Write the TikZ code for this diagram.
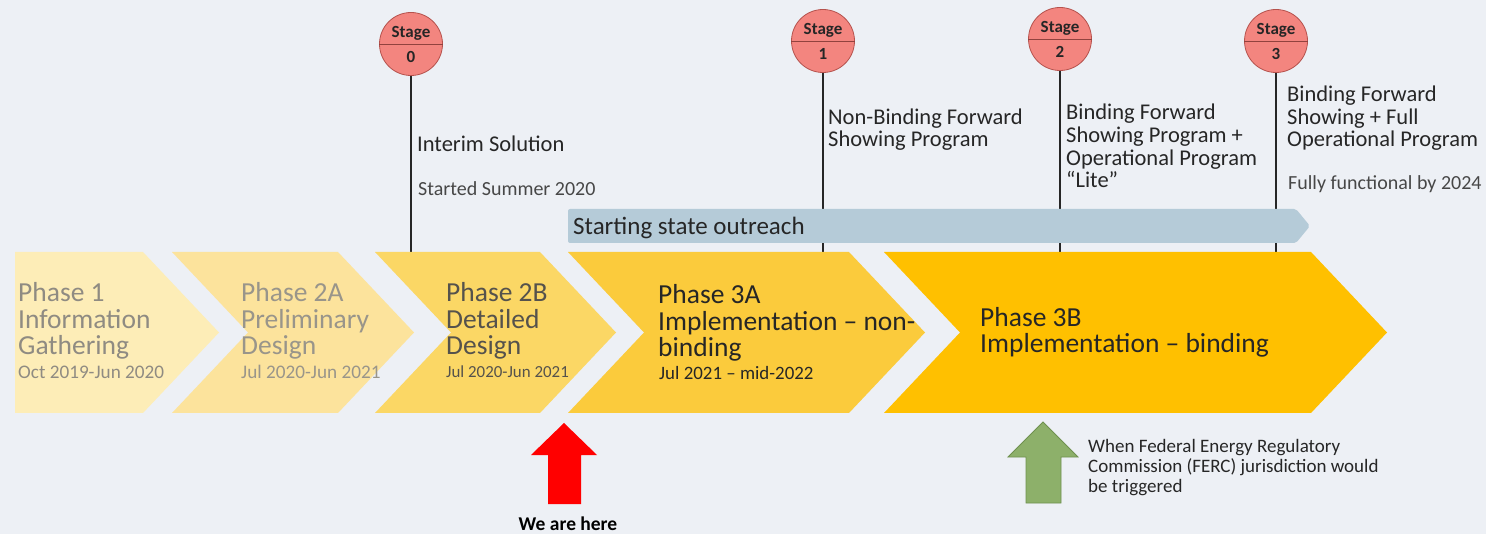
\documentclass[tikz,border=0pt]{standalone}
\usepackage{fontspec}
\setmainfont{Carlito}
\begin{document}
\definecolor{bgc}{HTML}{EDF0F5}
\definecolor{ph1}{HTML}{FDEDB7}
\definecolor{ph2a}{HTML}{FCE39C}
\definecolor{ph2b}{HTML}{FBD765}
\definecolor{ph3a}{HTML}{FBCB3C}
\definecolor{ph3b}{HTML}{FFC000}
\definecolor{txt1}{HTML}{8F8B82}
\definecolor{txt2}{HTML}{99958A}
\definecolor{txt2b}{HTML}{55524C}
\definecolor{darktxt}{HTML}{262626}
\definecolor{stagefill}{HTML}{F3857F}
\definecolor{stageedge}{HTML}{B5524D}
\definecolor{outreach}{HTML}{B5CBD8}
\definecolor{greenarrow}{HTML}{8DB06A}
\definecolor{greenedge}{HTML}{6F9150}
% multi-line nodes are placed by the baseline of their last line
\begin{tikzpicture}[x=1pt,y=-1pt,
  big/.style={inner sep=0pt, anchor=base west, align=left, font=\fontsize{27.5}{26.5}\selectfont},
  date/.style={inner sep=0pt, anchor=base west, font=\fontsize{19.2}{20}\selectfont},
  note/.style={inner sep=0pt, anchor=base west, align=left, font=\fontsize{22.5}{22.7}\selectfont, text=darktxt},
  small/.style={inner sep=0pt, anchor=base west, align=left, font=\fontsize{20}{22}\selectfont, text=darktxt!85},
  stagecirc/.style={circle, draw=stageedge, line width=0.8pt, fill=stagefill, minimum size=63pt, inner sep=0pt},
  stagetxt/.style={inner sep=0pt, font=\bfseries\fontsize{17}{17}\selectfont, text=darktxt},
  stageline/.style={draw=darktxt, line width=1.8pt},
  uparrow/.style={line width=0.8pt}
]
\useasboundingbox (0,0) rectangle (1486,534);
\fill[bgc] (0,0) rectangle (1486,534);

% stage markers and their drop lines
\foreach \n/\x/\y in {0/411/44, 1/823/41, 2/1060/39, 3/1276/41}{
  \node[stagecirc] (s\n) at (\x,\y) {};
  \coordinate (t\n) at (\x,252);
  \draw[stageline] (s\n.south) -- (t\n);
}

% outreach bar
\fill[outreach, rounded corners=2pt] (568,209) -- (1296,209) -- (1310,226) -- (1296,243) -- (568,243) -- cycle;
\node[inner sep=0pt, anchor=base west, font=\fontsize{25}{26}\selectfont, text=darktxt] (outr) at (573,235) {Starting state outreach};

% phase chevrons
\newcommand\phasechev[3]{%
  \fill[#3] (#1,252) -- (#2,252) -- (#2+76,332.5) -- (#2,413) -- (#1,413) -- (#1+76,332.5) -- cycle;}
\fill[ph1] (15,252) -- (143,252) -- (219,332.5) -- (143,413) -- (15,413) -- cycle;
\phasechev{172}{338}{ph2a}
\phasechev{375}{540}{ph2b}
\phasechev{568}{849}{ph3a}
\phasechev{884}{1311}{ph3b}

% phase texts
\node[big, text=txt1] (p1) at (18,355) {Phase 1\\Information\\Gathering};
\node[date, text=txt1] (p1d) at (18,379) {Oct 2019-Jun 2020};
\node[big, text=txt2] (p2a) at (241,355) {Phase 2A\\Preliminary\\Design};
\node[date, text=txt2] (p2ad) at (241,379) {Jul 2020-Jun 2021};
\node[big, text=txt2b] (p2b) at (446,355) {Phase 2B\\Detailed\\Design};
\node[date, text=txt2b, font=\fontsize{16.9}{18}\selectfont] (p2bd) at (446,378) {Jul 2020-Jun 2021};
\node[big, text=darktxt] (p3a) at (658,357) {Phase 3A\\Implementation -- non-\\binding};
\node[date, text=darktxt, font=\fontsize{18.9}{20}\selectfont] (p3ad) at (659,380) {Jul 2021 -- mid-2022};
\node[big, text=darktxt] (p3b) at (980,353) {Phase 3B\\Implementation -- binding};

% stage circle contents
\foreach \n in {0,1,2,3}{
  \draw[stageedge!80!black, line width=0.8pt] (s\n.west) -- (s\n.east);
  \node[stagetxt, anchor=base] (sl\n) at ([yshift=6pt]s\n.center) {Stage};
  \node[stagetxt, anchor=base] (sn\n) at ([yshift=-19pt]s\n.center) {\n};
}

% stage descriptions
\node[note] (d0) at (417,152) {Interim Solution};
\node[small] (d0b) at (418,196) {Started Summer 2020};
\node[note] (d1) at (828,147) {Non-Binding Forward\\Showing Program};
\node[note] (d2) at (1066,188) {Binding Forward\\Showing Program +\\Operational Program\\“Lite”};
\node[note] (d3) at (1287,147) {Binding Forward\\Showing + Full\\Operational Program};
\node[small] (d3b) at (1288,190) {Fully functional by 2024};

% current position marker
\fill[red] (564,423) -- (597,455) -- (581,455) -- (581,504) -- (548,504) -- (548,455) -- (531,455) -- cycle;
\node[inner sep=0pt, anchor=base, font=\bfseries\fontsize{19.5}{20}\selectfont, text=black] (here) at (568,530) {We are here};

% FERC trigger marker
\filldraw[fill=greenarrow, draw=greenedge, uparrow] (1043,422) -- (1078,457) -- (1061,457) -- (1061,503) -- (1026,503) -- (1026,457) -- (1008,457) -- cycle;
\node[inner sep=0pt, anchor=base west, align=left, font=\fontsize{19}{20}\selectfont, text=darktxt] (ferc) at (1088,492) {When Federal Energy Regulatory\\Commission (FERC) jurisdiction would\\be triggered};
\end{tikzpicture}
\end{document}
